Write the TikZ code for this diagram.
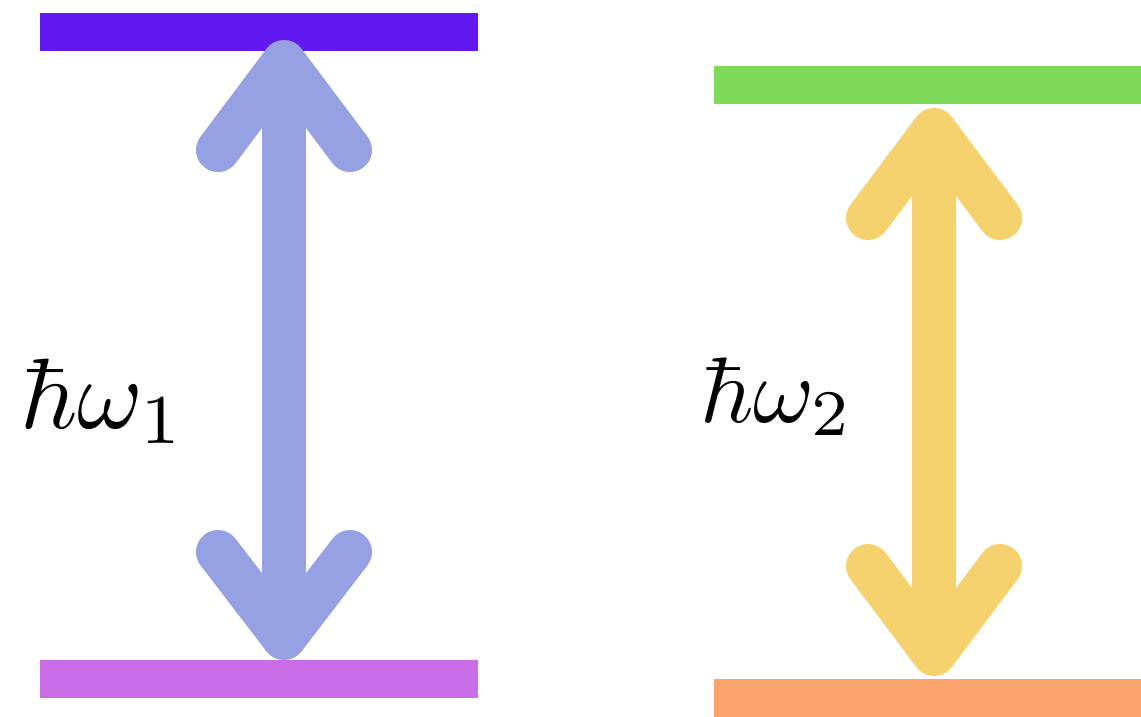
\documentclass[tikz,border=0pt]{standalone}
\usepackage{graphicx}
\usepackage{amsmath}
\definecolor{barA}{HTML}{6218F0}
\definecolor{barB}{HTML}{C96DE6}
\definecolor{barC}{HTML}{80DA5A}
\definecolor{barD}{HTML}{FBA46C}
\definecolor{arrA}{HTML}{95A1E2}
\definecolor{arrB}{HTML}{F6D26E}
\begin{document}
\begin{tikzpicture}[x=1pt,y=-1pt,
  level/.style={draw=none,inner sep=0pt,minimum height=38pt,anchor=north west},
  shaft/.style={line width=44pt,line cap=butt},
  chev/.style={line width=44pt,line cap=round,line join=round},
  lbl/.style={inner sep=0pt,anchor=base west}]
\useasboundingbox (0,0) rectangle (1141,716);
% levels
\node[level,fill=barA,minimum width=438pt] (e1) at (40,13) {};
\node[level,fill=barB,minimum width=438pt] (g1) at (40,660) {};
\node[level,fill=barC,minimum width=427pt] (e2) at (714,66) {};
\node[level,fill=barD,minimum width=427pt] (g2) at (714,679) {};
% arrow 1
\coordinate (t1) at (284,62);
\coordinate (b1) at (284,638);
\draw[arrA,shaft] (t1) -- (b1);
\draw[arrA,chev] ([xshift=-66pt,yshift=-88pt]t1) -- (t1) -- ([xshift=66pt,yshift=-88pt]t1);
\draw[arrA,chev] ([xshift=-66pt,yshift=86pt]b1) -- (b1) -- ([xshift=66pt,yshift=86pt]b1);
% arrow 2
\coordinate (t2) at (934,130);
\coordinate (b2) at (934,654);
\draw[arrB,shaft] (t2) -- (b2);
\draw[arrB,chev] ([xshift=-66pt,yshift=-88pt]t2) -- (t2) -- ([xshift=66pt,yshift=-88pt]t2);
\draw[arrB,chev] ([xshift=-66pt,yshift=88pt]b2) -- (b2) -- ([xshift=66pt,yshift=88pt]b2);
% labels
\node[lbl] (l1) at (20,428) {\scalebox{10}{$\hbar\omega_1$}};
\node[lbl] (l2) at (700,422) {\scalebox{9.3}{$\hbar\omega_2$}};
\end{tikzpicture}
\end{document}
